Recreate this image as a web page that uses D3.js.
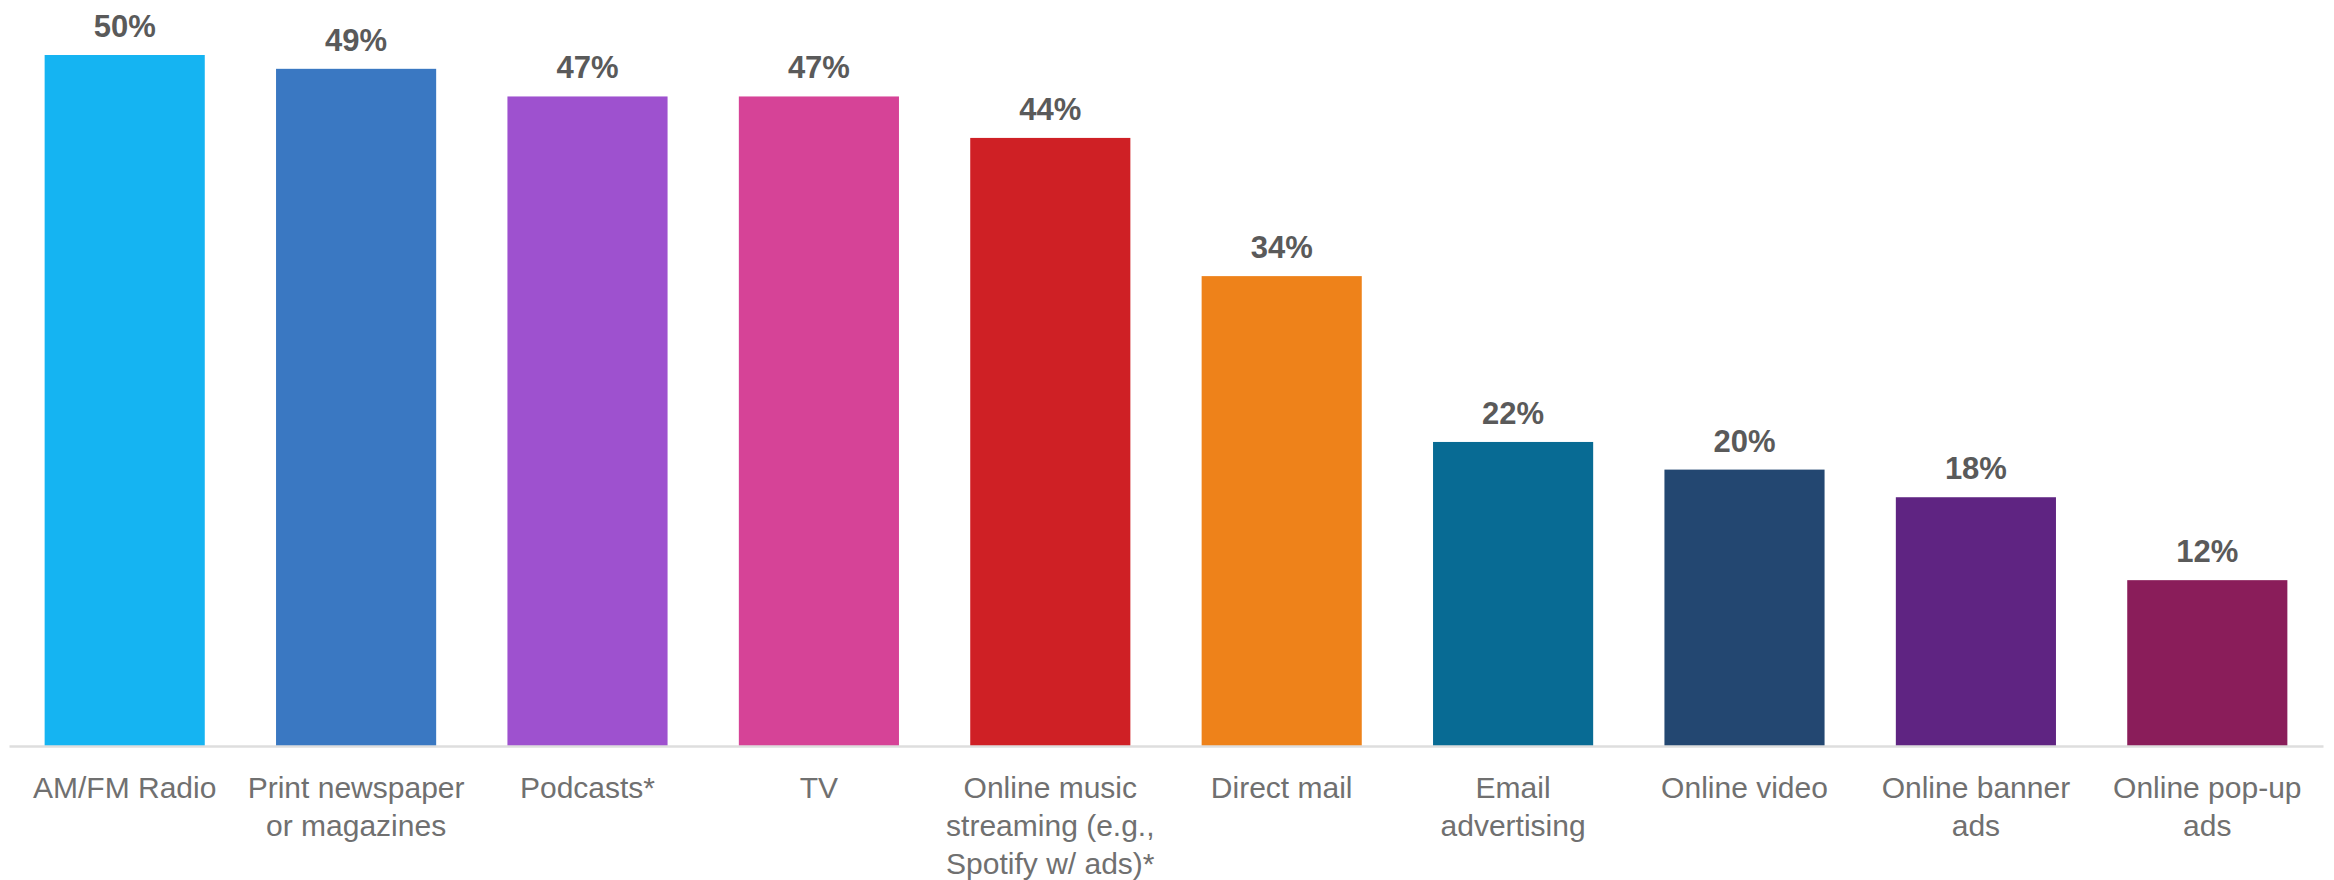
<!DOCTYPE html>
<html lang="en">
<head>
<meta charset="utf-8" />
<title>Ad channels</title>
<style>
  body { margin:0; background:#fff; }
  svg  { display:block; }
  .val  { font-family:"Liberation Sans",Arial,sans-serif; font-weight:700; font-size:31px; fill:#5a5a5a; }
  .tick text { font-family:"Liberation Sans",Arial,sans-serif; font-size:30px; fill:#707070; }
  .domain { stroke:#dedede; stroke-width:2.5px; }
</style>
</head>
<body>
<svg id="chart"></svg>
<script src="https://cdn.jsdelivr.net/npm/d3@7"></script>
<script>
/* ---------- DATA ---------- */
const categories = ["AM/FM Radio","Print newspaper or magazines","Podcasts*","TV",
  "Online music streaming (e.g., Spotify w/ ads)*","Direct mail","Email advertising",
  "Online video","Online banner ads","Online pop-up ads"];
const tickLines = [
  ["AM/FM Radio"],
  ["Print newspaper","or magazines"],
  ["Podcasts*"],
  ["TV"],
  ["Online music","streaming (e.g.,","Spotify w/ ads)*"],
  ["Direct mail"],
  ["Email","advertising"],
  ["Online video"],
  ["Online banner","ads"],
  ["Online pop-up","ads"]
];
const values = [50, 49, 47, 47, 44, 34, 22, 20, 18, 12];
const colors = ["#15b4f2","#3a78c2","#9e51cf","#d64397","#cf2025",
                "#ee821a","#086b94","#234771","#5f2482","#8a1d5a"];

/* ---------- SET-UP ---------- */
const W = 2334, H = 880;
const base = 746, top50 = 55;
const svg = d3.select("#chart").attr("width", W).attr("height", H);

const x = d3.scaleBand().domain(categories).range([9, 2323])
  .paddingInner(0.308).paddingOuter(0.154);
const y = d3.scaleLinear().domain([0, 50]).range([base, top50]);

/* ---------- BARS ---------- */
svg.append("g").selectAll("rect")
  .data(values)
  .join("rect")
    .attr("x", (d,i) => x(categories[i]))
    .attr("y", d => y(d))
    .attr("width", x.bandwidth())
    .attr("height", d => base - y(d))
    .attr("fill", (d,i) => colors[i]);

/* value labels */
svg.append("g").selectAll("text")
  .data(values)
  .join("text")
    .attr("class","val")
    .attr("text-anchor","middle")
    .attr("x", (d,i) => x(categories[i]) + x.bandwidth()/2)
    .attr("y", d => y(d) - 18)
    .text(d => d + "%");

/* ---------- AXIS ---------- */
const axis = svg.append("g")
  .attr("transform", `translate(0,${base})`)
  .call(d3.axisBottom(x).tickSize(0).tickSizeOuter(0).tickFormat(""));

axis.selectAll(".tick text")
  .attr("y", 52).attr("dy", 0)
  .each(function(d,i){
    const t = d3.select(this);
    tickLines[i].forEach((ln,j) => {
      t.append("tspan").attr("x", 0).attr("dy", j ? 38 : 0).text(ln);
    });
  });
</script>
</body>
</html>
